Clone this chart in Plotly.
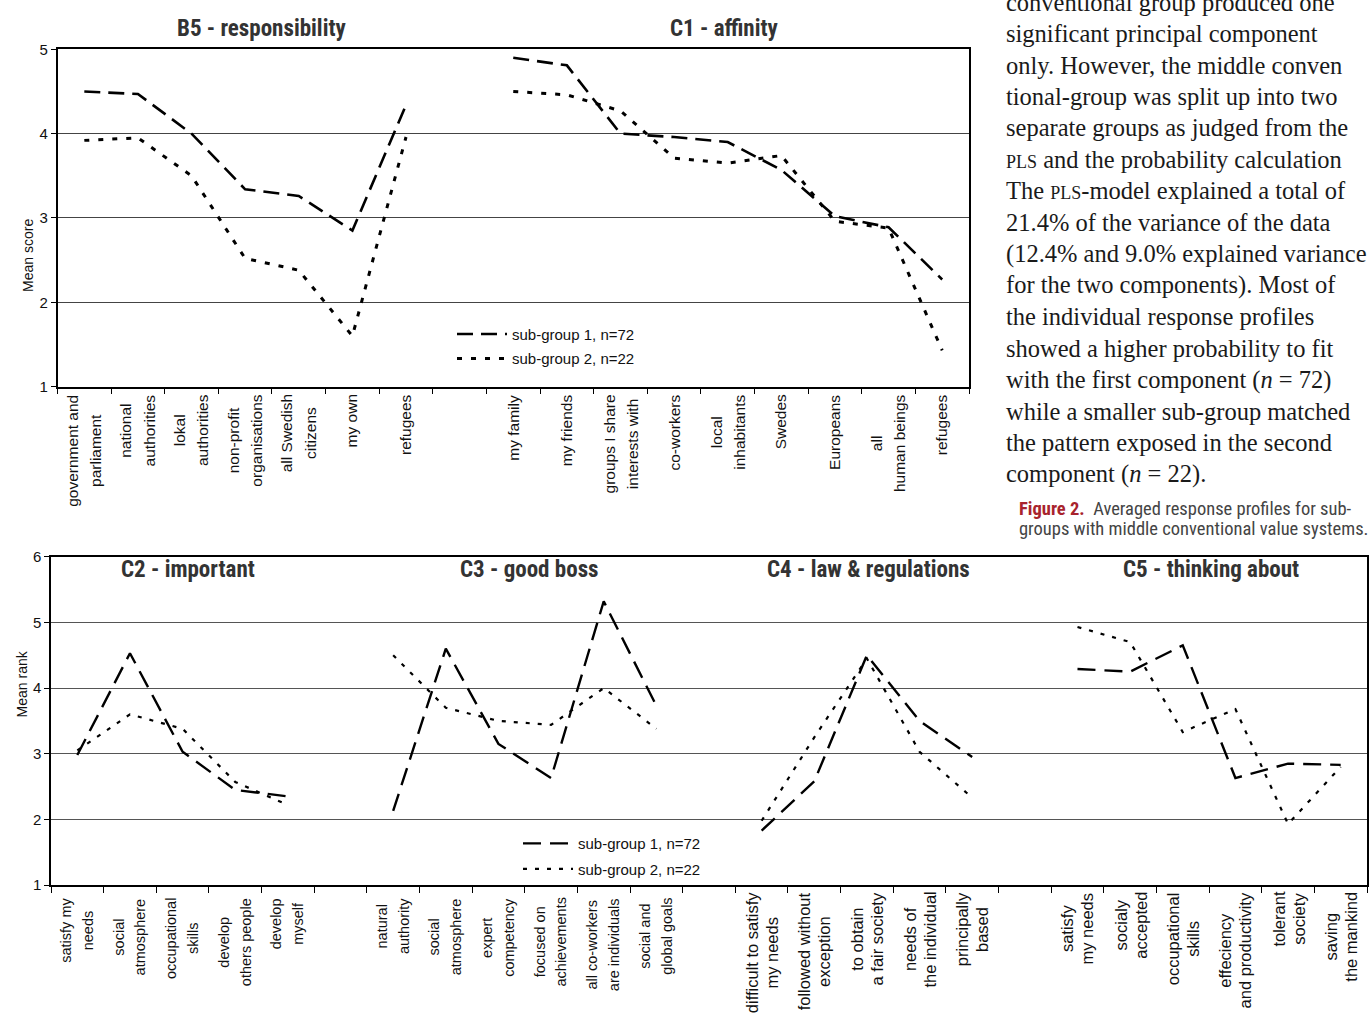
import plotly.graph_objects as go

W, H = 1372, 1017

# ---------------- data ----------------
b5_labels = ["government and\nparliament", "national\nauthorities", "lokal\nauthorities",
             "non-profit\norganisations", "all Swedish\ncitizens", "my own", "refugees"]
b5_g1 = [4.50, 4.47, 4.00, 3.34, 3.26, 2.85, 4.34]
b5_g2 = [3.92, 3.95, 3.50, 2.52, 2.38, 1.60, 3.96]

c1_labels = ["my family", "my friends", "groups I share\ninterests with", "co-workers",
             "local\ninhabitants", "Swedes", "Europeans", "all\nhuman beings", "refugees"]
c1_g1 = [4.90, 4.81, 4.00, 3.96, 3.90, 3.57, 3.02, 2.89, 2.27]
c1_g2 = [4.50, 4.46, 4.27, 3.71, 3.65, 3.74, 2.96, 2.88, 1.43]

c2_labels = ["satisfy my\nneeds", "social\natmosphere", "occupational\nskills",
             "develop\nothers people", "develop\nmyself"]
c2_g1 = [2.98, 4.53, 3.03, 2.45, 2.35]
c2_g2 = [3.05, 3.60, 3.38, 2.57, 2.22]

c3_labels = ["natural\nauthority", "social\natmosphere", "expert\ncompetency",
             "focused on\nachievements", "all co-workers\nare individuals", "social and\nglobal goals"]
c3_g1 = [2.13, 4.60, 3.15, 2.63, 5.32, 3.73]
c3_g2 = [4.50, 3.70, 3.50, 3.44, 4.00, 3.38]

c4_labels = ["difficult to satisfy\nmy needs", "followed without\nexception", "to obtain\na fair society",
             "needs of\nthe individual", "principally\nbased"]
c4_g1 = [1.83, 2.58, 4.50, 3.50, 2.95]
c4_g2 = [1.98, 3.25, 4.45, 3.03, 2.33]

c5_labels = ["satisfy\nmy needs", "socialy\naccepted", "occupational\nskills",
             "effeciency\nand productivity", "tolerant\nsociety", "saving\nthe mankind"]
c5_g1 = [4.29, 4.25, 4.65, 2.63, 2.85, 2.83]
c5_g2 = [4.93, 4.70, 3.33, 3.68, 1.93, 2.80]

top_titles = ["B5 - responsibility", "C1 - affinity"]
bottom_titles = ["C2 - important", "C3 - good boss", "C4 - law & regulations", "C5 - thinking about"]
series_names = ["sub-group 1, n=72", "sub-group 2, n=22"]

body_lines = [
    "conventional group produced one",
    "significant principal component",
    "only. However, the middle conven",
    "tional-group was split up into two",
    "separate groups as judged from the",
    "<span style='font-size:18px'>PLS</span> and the probability calculation",
    "The <span style='font-size:18px'>PLS</span>-model explained a total of",
    "21.4% of the variance of the data",
    "(12.4% and 9.0% explained variance",
    "for the two components). Most of",
    "the individual response profiles",
    "showed a higher probability to fit",
    "with the first component (<i>n</i> = 72)",
    "while a smaller sub-group matched",
    "the pattern exposed in the second",
    "component (<i>n</i> = 22).",
]
caption_lines = [
    "<b><span style='color:#a8232d'>Figure 2.</span></b>  Averaged response profiles for sub-",
    "groups with middle conventional value systems.",
]

# ---------------- helpers ----------------
def px(x):
    return x / W

def py(y):
    return 1 - y / H

def build(panels):
    xs, g1, g2, groups = [], [], [], []
    i = 0
    for k, (lab, a, b) in enumerate(panels):
        if k > 0:
            xs.append(i); g1.append(None); g2.append(None)
            i += 1
        pos = []
        for j in range(len(lab)):
            xs.append(i); g1.append(a[j]); g2.append(b[j])
            pos.append(i)
            i += 1
        groups.append((lab, pos))
    return xs, g1, g2, groups, i

tx, tg1, tg2, tgroups, tn = build([(b5_labels, b5_g1, b5_g2), (c1_labels, c1_g1, c1_g2)])
bx, bg1, bg2, bgroups, bn = build([(c2_labels, c2_g1, c2_g2), (c3_labels, c3_g1, c3_g2),
                                   (c4_labels, c4_g1, c4_g2), (c5_labels, c5_g1, c5_g2)])

SANS = "Liberation Sans, Arial, sans-serif"
COND = "Roboto Condensed, Roboto, sans-serif"
SERIF = "Liberation Serif, Times New Roman, serif"

fig = go.Figure()
fig.add_trace(go.Scatter(x=tx, y=tg1, mode="lines", name=series_names[0], xaxis="x", yaxis="y",
                         line=dict(color="black", width=2.6, dash="16px,8px"), legend="legend"))
fig.add_trace(go.Scatter(x=tx, y=tg2, mode="lines", name=series_names[1], xaxis="x", yaxis="y",
                         line=dict(color="black", width=3, dash="5px,9px"), legend="legend2"))
fig.add_trace(go.Scatter(x=bx, y=bg1, mode="lines", name=series_names[0], xaxis="x2", yaxis="y2",
                         line=dict(color="black", width=2.4, dash="18px,9px"), legend="legend3"))
fig.add_trace(go.Scatter(x=bx, y=bg2, mode="lines", name=series_names[1], xaxis="x2", yaxis="y2",
                         line=dict(color="black", width=2.2, dash="4px,8px"), legend="legend4"))

ann = []

def label_ann(labels, pos, xref, ytop, inner, outer):
    for lab, p in zip(labels, pos):
        txt = "<br>".join("<span style='font-size:%spx'>%s</span>" % (inner, s) for s in lab.split("\n"))
        ann.append(dict(x=p, y=py(ytop), xref=xref, yref="paper", text=txt, textangle=-90,
                        showarrow=False, xanchor="center", yanchor="top", align="center",
                        font=dict(family=SANS, size=outer, color="#111")))

# per-panel label styling: (top y, glyph size, line pitch size)
top_label_style = [(390, 15.5, 17.9), (390, 15.5, 17.9)]
bottom_label_style = [(902, 14.5, 16.7), (902, 14.5, 16.7), (896, 16.5, 15.4), (896, 16.5, 15.4)]
for (lab, pos), (yt, inner, outer) in zip(tgroups, top_label_style):
    label_ann(lab, pos, "x", yt, inner, outer)
for (lab, pos), (yt, inner, outer) in zip(bgroups, bottom_label_style):
    label_ann(lab, pos, "x2", yt, inner, outer)

for t, xx in zip(top_titles, [261, 724]):
    ann.append(dict(x=px(xx), y=py(20), xref="paper", yref="paper", text="<b>%s</b>" % t,
                    showarrow=False, xanchor="center", yanchor="middle",
                    font=dict(family=COND, size=23, color="#333")))
for t, xx in zip(bottom_titles, [188, 529, 869, 1211]):
    ann.append(dict(x=px(xx), y=py(570), xref="paper", yref="paper", text="<b>%s</b>" % t,
                    showarrow=False, xanchor="center", yanchor="middle",
                    font=dict(family=COND, size=23, color="#333")))

ann.append(dict(x=px(18), y=py(212), xref="paper", yref="paper", text="Mean score", textangle=-90,
                showarrow=False, font=dict(family=SANS, size=14, color="#111")))
ann.append(dict(x=px(12), y=py(723), xref="paper", yref="paper", text="Mean rank", textangle=-90,
                showarrow=False, font=dict(family=SANS, size=14, color="#111")))

for k, line in enumerate(body_lines):
    ann.append(dict(x=px(1004), y=py(-7 + 32 * k), xref="paper", yref="paper", text=line,
                    showarrow=False, xanchor="left", yanchor="middle",
                    font=dict(family=SERIF, size=24.5, color="#1a1a1a")))
for k, line in enumerate(caption_lines):
    ann.append(dict(x=px(1017), y=py(508 + 21 * k), xref="paper", yref="paper", text=line,
                    showarrow=False, xanchor="left", yanchor="middle",
                    font=dict(family=COND, size=18.5, color="#444")))

axis_common = dict(showline=True, mirror=True, linecolor="black", linewidth=1.5, zeroline=False)

def leg(x, ytop):
    return dict(x=px(x), y=py(ytop), xanchor="left", yanchor="top", bgcolor="rgba(0,0,0,0)",
                itemwidth=50, font=dict(family=SANS, size=15, color="#111"))

fig.update_layout(
    width=W, height=H, margin=dict(l=0, r=0, t=0, b=0),
    paper_bgcolor="white", plot_bgcolor="white",
    showlegend=True,
    xaxis=dict(domain=[px(57.5), px(969)], range=[-0.5, tn - 0.5], anchor="y",
               tickmode="array", tickvals=[i - 0.5 for i in range(tn + 1)], showticklabels=False,
               ticks="outside", ticklen=6, tickcolor="black", showgrid=False, **axis_common),
    yaxis=dict(domain=[py(384), py(41)], range=[1, 5], anchor="x", dtick=1,
               ticks="outside", ticklen=5, tickcolor="black",
               showgrid=True, gridcolor="#444", gridwidth=1,
               tickfont=dict(family=SANS, size=15, color="#111"), **axis_common),
    xaxis2=dict(domain=[px(51), px(1367)], range=[-0.5, bn - 0.5], anchor="y2",
                tickmode="array", tickvals=[i - 0.5 for i in range(bn + 1)], showticklabels=False,
                ticks="outside", ticklen=6, tickcolor="black", showgrid=False, **axis_common),
    yaxis2=dict(domain=[py(891), py(557)], range=[1, 6], anchor="x2", dtick=1,
                ticks="outside", ticklen=5, tickcolor="black",
                showgrid=True, gridcolor="#555", gridwidth=1,
                tickfont=dict(family=SANS, size=15, color="#111"), **axis_common),
    legend=leg(452, 314),
    legend2=leg(452, 339),
    legend3=leg(518, 832),
    legend4=leg(518, 858),
    annotations=ann,
)

fig.write_html("out.html")
